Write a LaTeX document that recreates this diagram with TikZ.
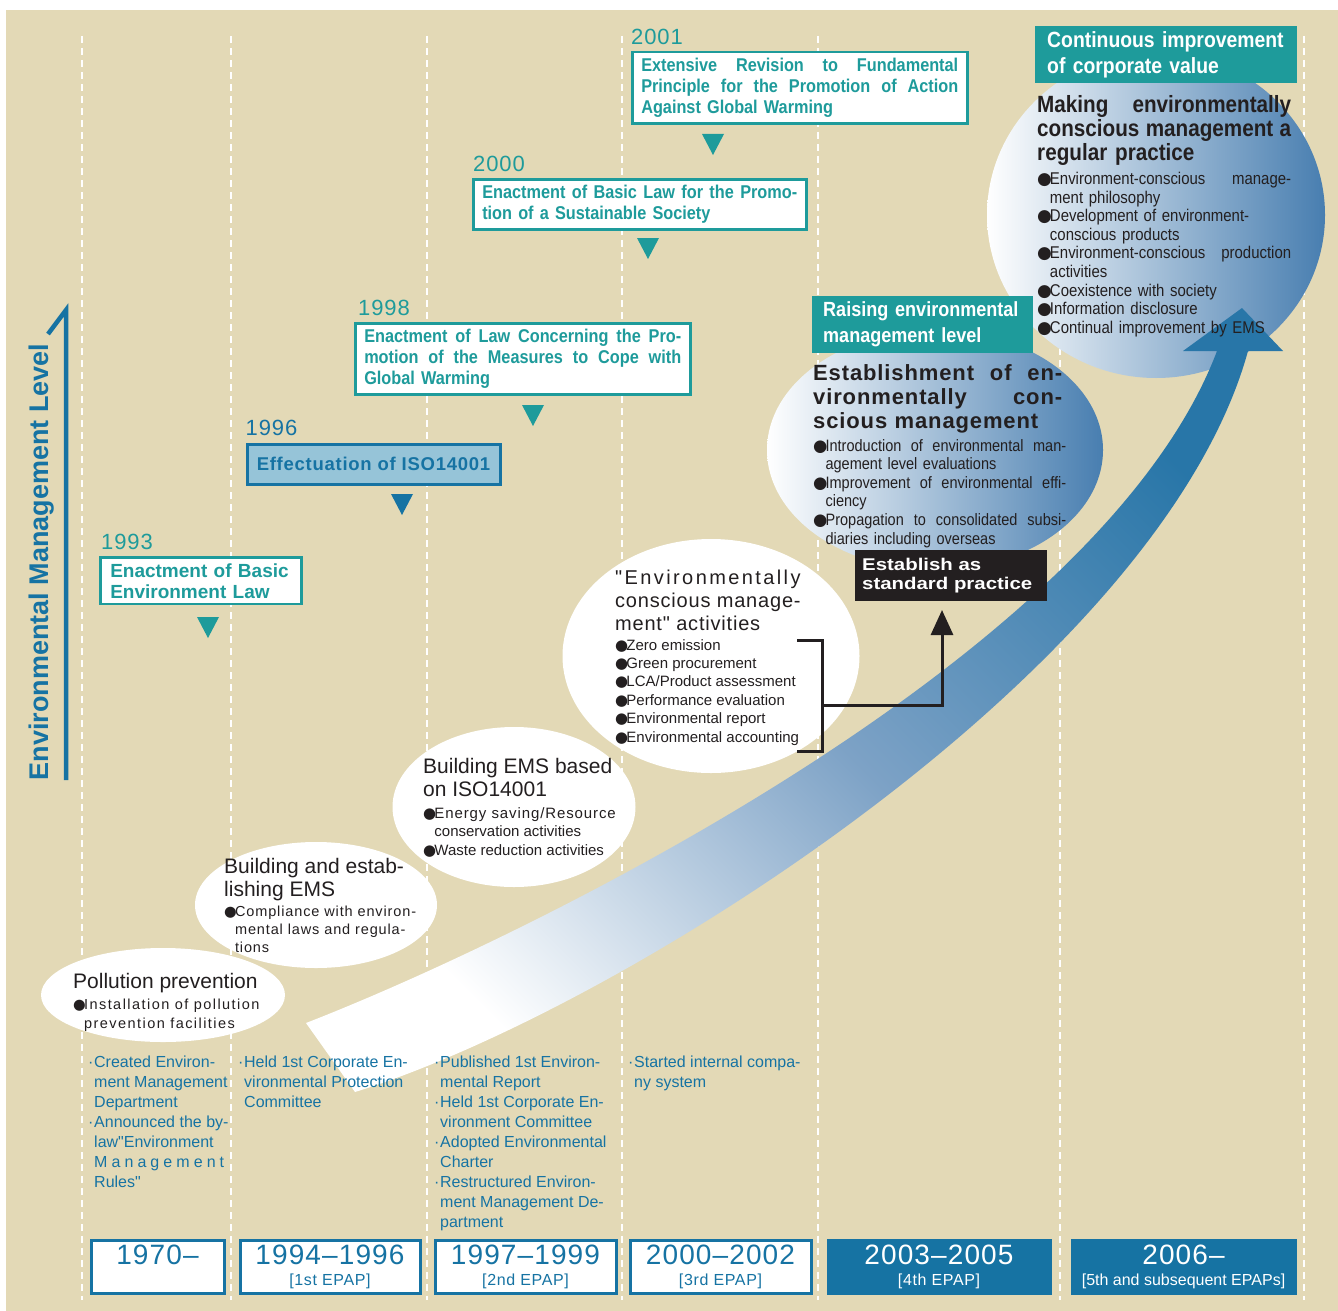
\documentclass[tikz,border=0pt]{standalone}
\usepackage{fontspec}
\setmainfont{Liberation Sans}
\newfontfamily\narrowfont{Liberation Sans}[FakeStretch=0.88]
\newfontfamily\spacedfont{Liberation Sans}[LetterSpace=4]
\newfontfamily\airyfont{Liberation Sans}[LetterSpace=6]
\newfontfamily\widefont{Liberation Sans}[FakeStretch=1.2]
\newfontfamily\dotfont{DejaVu Sans}
\usetikzlibrary{positioning,shapes.geometric,arrows.meta}

\definecolor{bgtan}{RGB}{227,217,182}
\definecolor{evteal}{RGB}{30,155,155}
\definecolor{epblue}{RGB}{22,115,163}
\definecolor{isofill}{RGB}{150,196,216}
\definecolor{ellblue}{RGB}{72,126,176}
\definecolor{swmid}{RGB}{125,162,198}
\definecolor{swblue}{RGB}{40,118,168}
\definecolor{inkblack}{RGB}{35,31,32}

\newcommand{\bulletmark}{\makebox[0.75em][l]{\dotfont ●}}
\newcommand{\bulletgap}{\hspace*{0.75em}}
\newcommand{\dotmark}{\makebox[6pt][l]{·}}
\newcommand{\dotgap}{\hspace*{6pt}}
\newcommand{\fullline}[1]{\makebox[\hsize][s]{\spaceskip=0pt\xspaceskip=0pt #1}}

\tikzset{
  eventbox/.style={anchor=north west, draw=evteal, line width=2.5pt, fill=white, text=evteal,
    inner xsep=9pt, inner ysep=6pt, align=left,
    font=\narrowfont\bfseries\fontsize{18.5}{21}\selectfont},
  yearlabel/.style={inner sep=0pt, text=evteal, font=\spacedfont\fontsize{22}{22}\selectfont},
  tealhead/.style={anchor=north west, fill=evteal, text=white, inner xsep=12pt, inner ysep=3pt,
    minimum height=57pt, align=left, font=\narrowfont\bfseries\fontsize{22}{26}\selectfont},
  bubble/.style={ellipse, fill=white, inner sep=0pt},
  shadebubble/.style={ellipse, inner sep=0pt, left color=white, right color=ellblue},
  bubbletitle/.style={anchor=north west, inner sep=0pt, align=left, text=inkblack,
    font=\fontsize{21}{23}\selectfont},
  bubbletext/.style={anchor=north west, inner sep=0pt, align=left, text=inkblack,
    font=\fontsize{15}{18.5}\selectfont},
  notetext/.style={anchor=north west, inner sep=0pt, align=left, text=epblue,
    font=\addfontfeature{Ligatures=TeXOff}\fontsize{16}{20}\selectfont},
  periodbox/.style={anchor=north west, draw=epblue, line width=3pt, fill=white, text=epblue,
    inner sep=0pt, minimum height=53pt, align=center, font=\spacedfont\fontsize{16}{21}\selectfont},
  periodnow/.style={periodbox, draw=none, fill=epblue, text=white, minimum height=56pt},
  stdbox/.style={anchor=north west, fill=inkblack, text=white, inner xsep=7pt, align=left,
    font=\widefont\bfseries\fontsize{17}{19.5}\selectfont}
}

\begin{document}
\begin{tikzpicture}[x=1pt, y=-1pt]
\useasboundingbox (0,0) rectangle (1338,1311);
\fill[bgtan] (6,10) rectangle (1338,1311);

\foreach \x in {82,231,427,622,818,1060,1304}
  \draw[white, line width=2.2pt, dash pattern=on 7pt off 5pt] (\x,36) -- (\x,1300);

\node[bubble, minimum width=244pt, minimum height=94pt] (bubPoll) at (163,995) {};
\node[bubble, minimum width=242pt, minimum height=126pt] (bubEms) at (316,905) {};
\node[bubble, minimum width=243pt, minimum height=160pt] (bubIso) at (514,807) {};
\node[bubble, minimum width=297pt, minimum height=234pt] (bubEnv) at (711,656) {};
\node[shadebubble, minimum width=336pt, minimum height=240pt] (bubStd) at (935,450) {};
\node[shadebubble, minimum width=338pt, minimum height=326pt] (bubTop) at (1156,215) {};

\shade[left color=white, right color=swblue, middle color=swmid, shading angle=135]
  (306,1023) .. controls (520,940) and (1100,660) .. (1217,351) -- (1183,351) -- (1242,308)
  -- (1283,351) -- (1248,351) .. controls (1160,670) and (620,1010) .. (355,1092) -- cycle;

\coordinate (axistop) at (66,310);
\coordinate (axisfoot) at (66,780);
\draw[epblue, line width=4.5pt, line join=miter] (48,334) -- (axistop) -- (axisfoot);
\node[rotate=90, inner sep=0pt, text=epblue, font=\bfseries\fontsize{27}{27}\selectfont] (axislabel) at (42,562) {Environmental Management Level};

\node[eventbox, text width=317pt] (ev2001) at (631,51) {\fullline{Extensive Revision to Fundamental}\\\fullline{Principle for the Promotion of Action}\\Against Global Warming};
\node[eventbox, text width=315pt] (ev2000) at (472,178) {\fullline{Enactment of Basic Law for the Promo-}\\tion of a Sustainable Society};
\node[eventbox, text width=317pt] (ev1998) at (354,322) {\fullline{Enactment of Law Concerning the Pro-}\\\fullline{motion of the Measures to Cope with}\\Global Warming};
\node[eventbox, draw=epblue, line width=3pt, fill=isofill, text=epblue, minimum width=253pt, minimum height=40pt, font=\spacedfont\bfseries\fontsize{18.5}{21}\selectfont] (ev1996) at (245.5,442.5) {Effectuation of ISO14001};
\node[eventbox, text width=181pt, inner xsep=10pt, font=\bfseries\fontsize{19}{21}\selectfont] (ev1993) at (99,556) {Enactment of Basic\\Environment Law};

\node[yearlabel, above right=6pt and 0pt of ev2001.north west] (yr2001) {2001};
\node[yearlabel, above right=6pt and 1pt of ev2000.north west] (yr2000) {2000};
\node[yearlabel, above right=6pt and 4pt of ev1998.north west] (yr1998) {1998};
\node[yearlabel, text=epblue, above right=7pt and 0pt of ev1996.north west] (yr1996) {1996};
\node[yearlabel, above right=6pt and 2pt of ev1993.north west] (yr1993) {1993};

\foreach \x/\y/\c in {713/134/evteal, 648/238/evteal, 533/405/evteal, 402/494/epblue, 208/617/evteal}
  \fill[\c] (\x-11,\y) -- (\x+11,\y) -- (\x,\y+21) -- cycle;

\node[tealhead, text width=238pt] (headTop) at (1035,26) {Continuous improvement\\of corporate value};
\node[tealhead, text width=199pt, inner xsep=11pt, font=\narrowfont\bfseries\fontsize{20.5}{26}\selectfont] (headMid) at (812,296) {Raising environmental\\management level};

\node[bubbletitle, text width=254pt, font=\narrowfont\bfseries\fontsize{23.5}{24}\selectfont] (titleTop) at (1037,95) {\fullline{Making environmentally}\\\fullline{conscious management a}\\regular practice};
\node[bubbletext, text width=254pt, font=\narrowfont\fontsize{17}{18.6}\selectfont] (listTop) at (1037,172) {\fullline{\bulletmark Environment-conscious manage-}\\\bulletgap ment philosophy\\\bulletmark Development of environment-\\\bulletgap conscious products\\\fullline{\bulletmark Environment-conscious production}\\\bulletgap activities\\\bulletmark Coexistence with society\\\bulletmark Information disclosure\\\bulletmark Continual improvement by EMS};

\node[bubbletitle, text width=249pt, font=\spacedfont\bfseries\fontsize{22}{24}\selectfont] (titleMid) at (813,364) {\fullline{Establishment of en-}\\\fullline{vironmentally con-}\\scious management};
\node[bubbletext, text width=253pt, font=\narrowfont\fontsize{16.5}{18.6}\selectfont] (listMid) at (813,439) {\fullline{\bulletmark Introduction of environmental man-}\\\bulletgap agement level evaluations\\\fullline{\bulletmark Improvement of environmental effi-}\\\bulletgap ciency\\\fullline{\bulletmark Propagation to consolidated subsi-}\\\bulletgap diaries including overseas};

\node[stdbox, text width=178pt, minimum height=51pt] (std) at (855,550) {Establish as\\standard practice};

\node[bubbletitle, font=\spacedfont\addfontfeature{Ligatures=TeXOff}\fontsize{20}{23}\selectfont] (titleEnv) at (615,570) {{\addfontfeature{LetterSpace=12}"Environmentally}\\conscious manage-\\ment" activities};
\node[bubbletext, font=\fontsize{15}{18.4}\selectfont] (listEnv) at (615,639) {\bulletmark Zero emission\\\bulletmark Green procurement\\\bulletmark LCA/Product assessment\\\bulletmark Performance evaluation\\\bulletmark Environmental report\\\bulletmark Environmental accounting};

\draw[inkblack, line width=3pt] (797,640) -- (822,640) -- (822,751) -- (797,751);
\coordinate (brk) at (822,705);
\coordinate (stdtip) at (942,610);
\draw[inkblack, line width=3pt, -{Triangle[width=22pt,length=25pt]}] (brk) -| (stdtip);

\node[bubbletitle] (titleIso) at (423,758) {Building EMS based\\on ISO14001};
\node[bubbletext] (listIso) at (423,807) {{\addfontfeature{LetterSpace=6}\bulletmark Energy saving/Resource}\\\bulletgap conservation activities\\\bulletmark Waste reduction activities};

\node[bubbletitle] (titleEms) at (224,858) {Building and estab-\\lishing EMS};
\node[bubbletext, font=\airyfont\fontsize{14.5}{18}\selectfont] (listEms) at (224,906) {\bulletmark Compliance with environ-\\\bulletgap mental laws and regula-\\\bulletgap tions};

\node[bubbletitle] (titlePoll) at (73,973) {Pollution prevention};
\node[bubbletext, font=\airyfont\addfontfeature{LetterSpace=10}\fontsize{14.5}{19}\selectfont] (listPoll) at (73,999) {\bulletmark Installation of pollution\\\bulletgap prevention facilities};

\node[notetext] (note1) at (88,1056) {\dotmark Created Environ-\\\dotgap ment Management\\\dotgap Department\\\dotmark Announced the by-\\\dotgap law"Environment\\\dotgap\makebox[130pt][s]{M a n a g e m e n t}\\\dotgap Rules"};
\node[notetext] (note2) at (238,1056) {\dotmark Held 1st Corporate En-\\\dotgap vironmental Protection\\\dotgap Committee};
\node[notetext] (note3) at (434,1056) {\dotmark Published 1st Environ-\\\dotgap mental Report\\\dotmark Held 1st Corporate En-\\\dotgap vironment Committee\\\dotmark Adopted Environmental\\\dotgap Charter\\\dotmark Restructured Environ-\\\dotgap ment Management De-\\\dotgap partment};
\node[notetext] (note4) at (628,1056) {\dotmark Started internal compa-\\\dotgap ny system};

\node[periodbox, minimum width=133pt] (per1) at (89.5,1238.5) {{\fontsize{28}{28}\selectfont 1970–}\\\phantom{[}};
\node[periodbox, minimum width=180pt] (per2) at (238.5,1238.5) {{\fontsize{28}{28}\selectfont 1994–1996}\\{[1st EPAP]}};
\node[periodbox, minimum width=181pt] (per3) at (433.5,1238.5) {{\fontsize{28}{28}\selectfont 1997–1999}\\{[2nd EPAP]}};
\node[periodbox, minimum width=181pt] (per4) at (628.5,1238.5) {{\fontsize{28}{28}\selectfont 2000–2002}\\{[3rd EPAP]}};
\node[periodnow, minimum width=225pt] (per5) at (825,1237) {{\fontsize{28}{28}\selectfont 2003–2005}\\{[4th EPAP]}};
\node[periodnow, minimum width=226pt] (per6) at (1069,1237) {{\fontsize{28}{28}\selectfont 2006–}\\{\normalfont [5th and subsequent EPAPs]}};
\end{tikzpicture}
\end{document}
